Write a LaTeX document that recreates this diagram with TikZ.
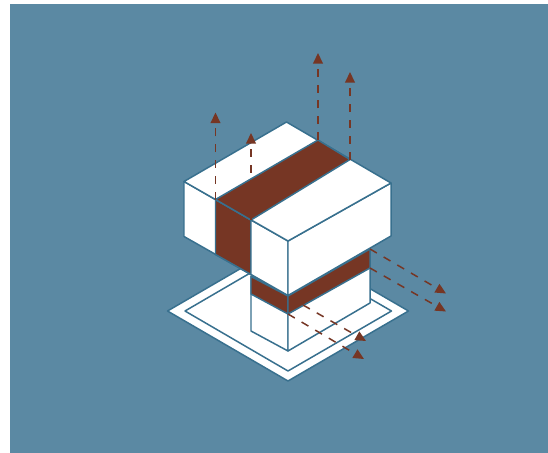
\documentclass[tikz,border=0pt]{standalone}
\usepackage{xcolor}
\usepackage{tikz}
\usetikzlibrary{arrows.meta}
\definecolor{slateback}{RGB}{91,137,163}
\definecolor{edgeblue}{RGB}{56,112,142}
\definecolor{rustbrown}{RGB}{118,54,36}
\tikzset{
    face/.style={draw=edgeblue, fill=white, line width=0.85pt, line join=round},
    band/.style={draw=edgeblue, fill=rustbrown, line width=0.85pt, line join=round},
    flow/.style={draw=rustbrown, line width=0.85pt, dash pattern=on 4.5pt off 4.5pt,
        -{Triangle[length=6pt,width=5.5pt,fill=rustbrown]}}
}
\begin{document}
\begin{tikzpicture}[x=0.02cm, y=-0.02cm]
    \useasboundingbox (0,0) rectangle (548,453);
    \fill[slateback] (10,4) rectangle (548,453);

    % base plate
    \draw[face] (288,241) -- (408.5,311) -- (288,381) -- (167.5,311) -- cycle;
    \draw[face] (288,251) -- (391.5,311) -- (288,371) -- (185,311) -- cycle;

    % column
    \draw[face] (251,276) -- (288,296) -- (288,351) -- (251,331) -- cycle;
    \draw[face] (288,296) -- (370,249) -- (370,303) -- (288,351) -- cycle;
    \draw[band] (251,276.5) -- (288,296) -- (288,314) -- (251,294) -- cycle;
    \draw[band] (288,296) -- (370,249) -- (370,268) -- (288,314) -- cycle;

    % upper block
    \draw[face] (184,181.5) -- (251,220) -- (251,274.5) -- (184,236.5) -- cycle;
    \draw[band] (215.5,199.5) -- (251,220) -- (251,274.5) -- (215.5,254.5) -- cycle;
    \draw[face] (251,220) -- (288,241) -- (288,295.5) -- (251,274.5) -- cycle;
    \draw[face] (288,241) -- (391,183) -- (391,236) -- (288,295.5) -- cycle;
    \draw[face] (286.5,122) -- (391,183) -- (288,241) -- (184,181.5) -- cycle;
    \draw[band] (318,140) -- (350,159.5) -- (251,220) -- (215.5,199.5) -- cycle;

    % end points of the flows
    \coordinate (upa) at (215.5,199.5);
    \coordinate (upatip) at (215.5,112.5);
    \coordinate (upb) at (251,220);
    \coordinate (upbtip) at (251,133);
    \coordinate (upc) at (318,140);
    \coordinate (upctip) at (318,53);
    \coordinate (upd) at (350,159.5);
    \coordinate (updtip) at (350,72);
    \coordinate (righta) at (370,249);
    \coordinate (rightatip) at (446,293.5);
    \coordinate (rightb) at (370,268);
    \coordinate (rightbtip) at (446,311.5);
    \coordinate (fronta) at (288,314);
    \coordinate (frontatip) at (364,359);
    \coordinate (frontb) at (303,305);
    \coordinate (frontbtip) at (366,341);

    \draw[flow] (upa) -- (upatip);
    \draw[flow] (upb) -- (upbtip);
    \draw[flow] (upc) -- (upctip);
    \draw[flow] (upd) -- (updtip);
    \draw[flow] (righta) -- (rightatip);
    \draw[flow] (rightb) -- (rightbtip);
    \draw[flow] (fronta) -- (frontatip);
    \draw[flow] (frontb) -- (frontbtip);
\end{tikzpicture}
\end{document}
